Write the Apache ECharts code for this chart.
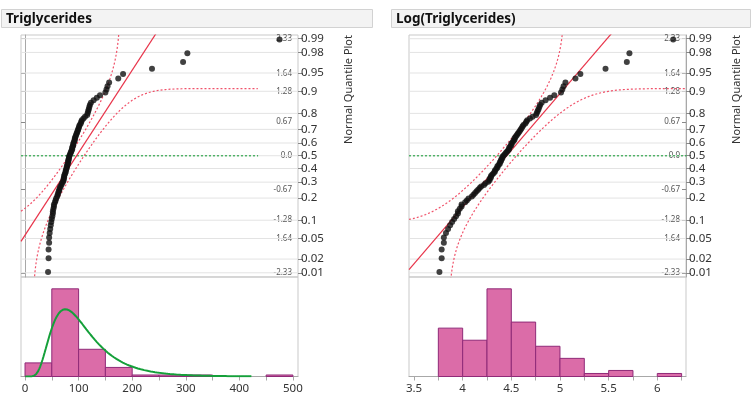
<!DOCTYPE html>
<html>
<head>
<meta charset="utf-8">
<script src="https://cdn.jsdelivr.net/npm/echarts@6/dist/echarts.min.js"></script>
<style>
  html, body { margin: 0; padding: 0; background: #fff; }
  #chart { width: 751px; height: 397px; }
</style>
</head>
<body>
<div id="chart"></div>
<script>
// Sorted triglyceride measurements (mg/dL), n = 95
const triglycerides = [
  43, 44, 44, 45, 45, 46, 47, 48, 49, 50, 51, 52, 52, 53, 54, 54,
  56, 57, 58, 60, 61, 62, 63, 64, 65, 66, 68, 69,
  71, 72, 72, 73, 73, 74, 75, 76, 76, 77, 78, 78, 79, 80, 80, 81, 81, 82, 82, 83, 84, 85, 86, 87, 88, 88, 89,
  90, 90, 91, 92, 93, 93, 94, 95, 96, 97, 98, 99,
  100, 101, 102, 104, 105, 106, 109, 112,
  116, 117, 118, 119, 120, 121, 123, 128, 134, 140,
  150, 152, 154, 157, 174, 183,
  237, 295, 303, 475
];

// Probability scale shown beside the normal quantile plot
const probTicks = [0.01, 0.02, 0.05, 0.1, 0.2, 0.3, 0.4, 0.5, 0.6, 0.7, 0.8, 0.9, 0.95, 0.98, 0.99];
// Normal quantile (z) labels
const zTickLabels = ['-2.33', '-1.64', '-1.28', '-0.67', '0.0', '0.67', '1.28', '1.64', '2.33'];
// Histogram axis labels
const rawTickLabels = [0, 100, 200, 300, 400, 500];
const rawMinorTicks = [0, 50, 100, 150, 200, 250, 300, 350, 400, 450, 500];
const logTickLabels = [3.5, 4, 4.5, 5, 5.5, 6];
const logMinorTicks = [3.5, 3.75, 4, 4.25, 4.5, 4.75, 5, 5.25, 5.5, 5.75, 6, 6.25];

// Normal fits (mean, sd) for each quantile plot, Lilliefors band half-width
const rawFit = { mean: 96.3, sd: 61 };
const logFit = { mean: 4.452, sd: 0.4435 };
const lillieforsD = 0.0909;
// Fitted lognormal density drawn over the raw histogram
const rawDensity = { mu: 4.57, sigma: 0.5, from: 0.5, to: 424 };

// ---- numeric helpers ----
function invNorm(p) {
  const a = [-3.969683028665376e+01, 2.209460984245205e+02, -2.759285104469687e+02, 1.383577518672690e+02, -3.066479806614716e+01, 2.506628277459239e+00];
  const b = [-5.447609879822406e+01, 1.615858368580409e+02, -1.556989798598866e+02, 6.680131188771972e+01, -1.328068155288572e+01];
  const c = [-7.784894002430293e-03, -3.223964580411365e-01, -2.400758277161838e+00, -2.549671010139431e+00, 4.374664141464968e+00, 2.938163982698783e+00];
  const d = [7.784695709041462e-03, 3.224671290700398e-01, 2.445134137142996e+00, 3.754408661907416e+00];
  const pl = 0.02425, ph = 1 - pl;
  let q, r;
  if (p < pl) {
    q = Math.sqrt(-2 * Math.log(p));
    return (((((c[0] * q + c[1]) * q + c[2]) * q + c[3]) * q + c[4]) * q + c[5]) / ((((d[0] * q + d[1]) * q + d[2]) * q + d[3]) * q + 1);
  }
  if (p <= ph) {
    q = p - 0.5; r = q * q;
    return (((((a[0] * r + a[1]) * r + a[2]) * r + a[3]) * r + a[4]) * r + a[5]) * q / (((((b[0] * r + b[1]) * r + b[2]) * r + b[3]) * r + b[4]) * r + 1);
  }
  q = Math.sqrt(-2 * Math.log(1 - p));
  return -(((((c[0] * q + c[1]) * q + c[2]) * q + c[3]) * q + c[4]) * q + c[5]) / ((((d[0] * q + d[1]) * q + d[2]) * q + d[3]) * q + 1);
}
function normCdf(x) {
  const t = 1 / (1 + 0.2316419 * Math.abs(x));
  const dens = 0.3989422804 * Math.exp(-x * x / 2);
  const p = dens * t * (0.319381530 + t * (-0.356563782 + t * (1.781477937 + t * (-1.821255978 + t * 1.330274429))));
  return x > 0 ? 1 - p : p;
}
function histogram(values, start, width) {
  const counts = [];
  values.forEach(v => {
    const k = Math.floor((v - start) / width + 1e-9);
    counts[k] = (counts[k] || 0) + 1;
  });
  const bins = [];
  for (let k = 0; k < counts.length; k++) {
    if (counts[k]) bins.push([start + k * width, start + (k + 1) * width, counts[k]]);
  }
  return bins;
}

const FONT = '"Noto Sans", "Open Sans", sans-serif';
const GRID_COLOR = '#e3e3e3';
const FRAME_COLOR = '#c9c9c9';
const AXIS_COLOR = '#a8a8a8';
const Z_MIN = -2.41, Z_MAX = 2.40;
const probZ = probTicks.map(invNorm);
const zVals = zTickLabels.map(parseFloat);

const panels = [
  {
    title: 'Triglycerides', values: triglycerides.slice(),
    binStart: 0, binWidth: 50, xMin: -7.5, xMax: 509.5,
    labels: rawTickLabels, ticks: rawMinorTicks, fit: rawFit, lineEnd: 435,
    left: 21, header: [1, 371], density: rawDensity, labelX: 349
  },
  {
    title: 'Log(Triglycerides)', values: triglycerides.map(Math.log),
    binStart: 3.75, binWidth: 0.25, xMin: 3.4486, xMax: 6.295,
    labels: logTickLabels, ticks: logMinorTicks, fit: logFit, lineEnd: 6.30,
    left: 409, header: [391, 359], density: null, labelX: 737
  }
];

const grid = [], xAxis = [], yAxis = [], series = [], graphic = [];

panels.forEach((pn, pi) => {
  const qGrid = grid.length;
  grid.push({ left: pn.left, top: 35, width: 277, height: 242, show: true, borderColor: FRAME_COLOR, borderWidth: 1, backgroundColor: 'transparent' });
  const hGrid = grid.length;
  grid.push({ left: pn.left, top: 277, width: 277, height: 99.5, show: true, borderColor: FRAME_COLOR, borderWidth: 1, backgroundColor: 'transparent' });

  const qx = xAxis.length;
  xAxis.push({ type: 'value', gridIndex: qGrid, min: pn.xMin, max: pn.xMax, show: false });
  const hx = xAxis.length;
  xAxis.push({
    type: 'value', gridIndex: hGrid, min: pn.xMin, max: pn.xMax,
    axisLine: { show: true, lineStyle: { color: AXIS_COLOR } },
    axisTick: { show: true, length: 4, lineStyle: { color: AXIS_COLOR }, customValues: pn.ticks },
    axisLabel: { show: true, customValues: pn.labels, color: '#333', fontSize: 11.5, fontFamily: FONT, margin: 6 },
    splitLine: { show: false }
  });

  const qyz = yAxis.length;
  yAxis.push({
    type: 'value', gridIndex: qGrid, position: 'right', min: Z_MIN, max: Z_MAX,
    axisLine: { show: true, lineStyle: { color: AXIS_COLOR } },
    axisTick: { show: true, inside: true, length: 4, lineStyle: { color: '#888' }, customValues: zVals },
    axisLabel: {
      show: true, inside: true, customValues: zVals, margin: 6,
      color: '#555', fontSize: 8, fontFamily: FONT,
      formatter: v => { const i = zVals.findIndex(z => Math.abs(z - v) < 1e-6); return i >= 0 ? zTickLabels[i] : ''; }
    },
    splitLine: { show: false }
  });
  yAxis.push({
    type: 'value', gridIndex: qGrid, position: 'right', min: Z_MIN, max: Z_MAX,
    axisLine: { show: false },
    axisTick: { show: true, length: 5, lineStyle: { color: '#888' }, customValues: probZ },
    axisLabel: {
      show: true, customValues: probZ, margin: 3,
      color: '#333', fontSize: 11.5, fontFamily: FONT,
      formatter: v => String(Math.round(normCdf(v) * 100) / 100)
    },
    splitLine: { show: false }
  });
  const hy = yAxis.length;
  const bins = histogram(pn.values, pn.binStart, pn.binWidth);
  const maxCount = Math.max.apply(null, bins.map(b => b[2]));
  yAxis.push({ type: 'value', gridIndex: hGrid, min: 0, max: maxCount * 1.135, show: false });

  // horizontal probability grid lines
  series.push({
    type: 'custom', xAxisIndex: qx, yAxisIndex: qyz, silent: true, z: 1,
    data: probZ.map(z => [z]),
    renderItem: (params, api) => {
      const z = api.value(0);
      const p0 = api.coord([pn.xMin, z]);
      const p1 = api.coord([pn.xMax, z]);
      return { type: 'line', shape: { x1: p0[0], y1: p0[1], x2: p1[0], y2: p1[1] }, style: { stroke: GRID_COLOR, lineWidth: 1 } };
    }
  });

  // median reference (z = 0)
  series.push({
    type: 'line', xAxisIndex: qx, yAxisIndex: qyz, silent: true, z: 2, symbol: 'none',
    data: [[pn.xMin, 0], [pn.lineEnd, 0]],
    lineStyle: { color: '#3fae5a', width: 1.3, type: [2, 2] }
  });

  // Lilliefors confidence bands
  const upper = [], lower = [];
  const steps = 900;
  for (let s = 0; s <= steps; s++) {
    const x = pn.xMin + (pn.lineEnd - pn.xMin) * s / steps;
    const P = normCdf((x - pn.fit.mean) / pn.fit.sd);
    upper.push(P + lillieforsD < 0.99995 ? [x, invNorm(P + lillieforsD)] : [x, NaN]);
    lower.push(P - lillieforsD > 0.00005 ? [x, invNorm(P - lillieforsD)] : [x, NaN]);
  }
  [upper, lower].forEach(band => series.push({
    type: 'line', xAxisIndex: qx, yAxisIndex: qyz, silent: true, z: 3, symbol: 'none',
    data: band, connectNulls: false, clip: true,
    lineStyle: { color: '#f0526a', width: 1.2, type: [2, 2] }
  }));

  // fitted normal line
  series.push({
    type: 'line', xAxisIndex: qx, yAxisIndex: qyz, silent: true, z: 4, symbol: 'none', clip: true,
    data: [[pn.xMin, (pn.xMin - pn.fit.mean) / pn.fit.sd], [pn.xMax, (pn.xMax - pn.fit.mean) / pn.fit.sd]],
    lineStyle: { color: '#e8344a', width: 1.2 }
  });

  // normal quantile points
  const sorted = pn.values.slice().sort((a, b) => a - b);
  const n = sorted.length;
  series.push({
    type: 'scatter', xAxisIndex: qx, yAxisIndex: qyz, z: 5, symbolSize: 6,
    itemStyle: { color: '#111' },
    data: sorted.map((v, i) => [v, invNorm((i + 1) / (n + 1))])
  });

  // histogram bars
  series.push({
    type: 'custom', xAxisIndex: hx, yAxisIndex: hy, z: 3,
    data: bins,
    renderItem: (params, api) => {
      const a = api.coord([api.value(0), api.value(2)]);
      const b = api.coord([api.value(1), 0]);
      return {
        type: 'rect',
        shape: { x: a[0], y: a[1], width: b[0] - a[0], height: b[1] - a[1] },
        style: { fill: '#db6ca8', stroke: '#8f2a78', lineWidth: 1 }
      };
    }
  });

  // fitted density curve
  if (pn.density) {
    const dd = pn.density, curve = [];
    for (let x = dd.from; x <= dd.to; x += 2) {
      const f = Math.exp(-Math.pow(Math.log(x) - dd.mu, 2) / (2 * dd.sigma * dd.sigma)) / (x * dd.sigma * Math.sqrt(2 * Math.PI));
      curve.push([x, f * n * pn.binWidth]);
    }
    series.push({
      type: 'line', xAxisIndex: hx, yAxisIndex: hy, z: 6, symbol: 'none', silent: true, smooth: false,
      data: curve, lineStyle: { color: '#15a03a', width: 2 }
    });
  }

  // header band with title
  graphic.push({
    type: 'rect', shape: { x: pn.header[0] + 0.5, y: 9.5, width: pn.header[1], height: 18 },
    style: { fill: '#f3f3f3', stroke: '#d2d2d2', lineWidth: 1 }, silent: true
  });
  graphic.push({
    type: 'text', x: pn.header[0] + 5, y: 19,
    style: { text: pn.title, font: 'bold 13.5px ' + FONT, fill: '#111', verticalAlign: 'middle' }, silent: true
  });
  graphic.push({
    type: 'text', x: pn.labelX, y: 35, rotation: Math.PI / 2,
    style: { text: 'Normal Quantile Plot', font: '11px ' + FONT, fill: '#333', align: 'right', verticalAlign: 'middle' }, silent: true
  });
});

const chart = echarts.init(document.getElementById('chart'), null, { renderer: 'canvas' });
chart.setOption({
  animation: false,
  backgroundColor: '#ffffff',
  grid, xAxis, yAxis, series, graphic
});
</script>
</body>
</html>
